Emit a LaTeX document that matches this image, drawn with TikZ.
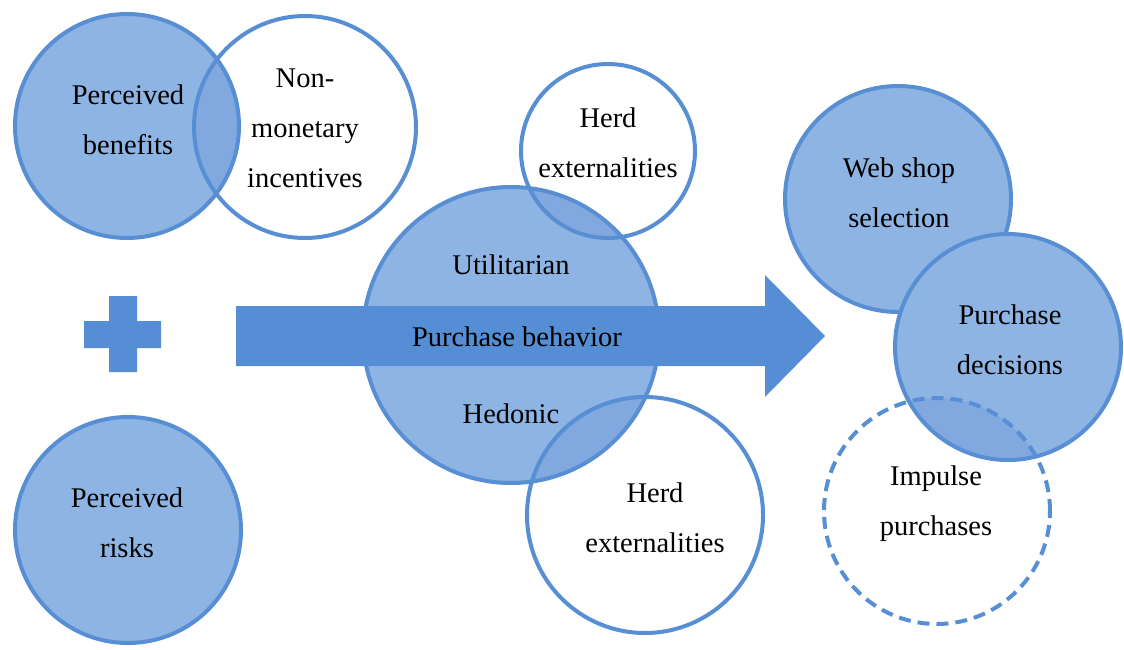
\documentclass[tikz,border=0pt]{standalone}
\usepackage{fontspec}
\setmainfont{Liberation Serif}
\definecolor{fillblue}{RGB}{142,180,227}
\definecolor{lensblue}{RGB}{129,169,223}
\definecolor{lineblue}{RGB}{88,143,212}
\definecolor{arrowblue}{RGB}{85,142,213}
\begin{document}
\begin{tikzpicture}[x=1pt,y=-1pt,
  circ/.style={circle,inner sep=0pt,outer sep=0pt,line width=4pt},
  bluefill/.style={circ,fill=fillblue},
  whitefill/.style={circ,fill=white},
  outline/.style={line width=4pt,draw=lineblue},
  dashline/.style={line width=4pt,draw=lineblue,dash pattern=on 12pt off 7pt},
  lbl/.style={align=center,inner sep=0pt,font=\fontsize{28.5}{50}\selectfont}]
\useasboundingbox (0,0) rectangle (1124,650);
% circles (fills)
\node[whitefill,minimum size=222pt] (nm) at (305,127) {};
\node[whitefill,minimum size=174pt] (ht) at (608,151) {};
\node[whitefill,minimum size=236pt] (hb) at (645,515) {};
\node[whitefill,minimum size=226pt] (ip) at (937,511) {};
\node[bluefill,minimum size=224pt] (pb) at (127,126) {};
\node[bluefill,minimum size=226pt] (pr) at (128,530) {};
\node[bluefill,minimum size=296pt] (bh) at (511,335) {};
\node[bluefill,draw=lineblue,minimum size=226pt] (ws) at (898,199) {};
\node[bluefill,minimum size=226pt] (pd) at (1008,347) {};
% lenses
\begin{scope}\clip (pb.center) circle[radius=112pt];
  \fill[lensblue] (nm.center) circle[radius=111pt];\end{scope}
\begin{scope}\clip (bh.center) circle[radius=148pt];
  \fill[lensblue] (ht.center) circle[radius=87pt];\end{scope}
\begin{scope}\clip (bh.center) circle[radius=148pt];
  \fill[lensblue] (hb.center) circle[radius=118pt];\end{scope}
\begin{scope}\clip (pd.center) circle[radius=113pt];
  \fill[lensblue] (ip.center) circle[radius=113pt];\end{scope}
% outlines
\draw[outline] (pb.center) circle[radius=112pt];
\draw[outline] (nm.center) circle[radius=111pt];
\draw[outline] (pr.center) circle[radius=113pt];
\draw[outline] (bh.center) circle[radius=148pt];
\draw[outline] (ht.center) circle[radius=87pt];
\draw[outline] (hb.center) circle[radius=118pt];
\draw[outline] (pd.center) circle[radius=113pt];
\draw[dashline] (ip.center) circle[radius=113pt];
% block arrow
\fill[arrowblue] (236,306) -- (765,306) -- (765,275) -- (825,336) -- (765,397) -- (765,366) -- (236,366) -- cycle;
% plus sign
\fill[arrowblue] (109,296) -- (137,296) -- (137,321) -- (161,321) -- (161,348) -- (137,348) -- (137,372) -- (109,372) -- (109,348) -- (84,348) -- (84,321) -- (109,321) -- cycle;
% labels
\node[lbl] (tpb) at (128,120) {Perceived\\benefits};
\node[lbl] (tnm) at (305,128) {Non-\\monetary\\incentives};
\node[lbl] (tht) at (608,143) {Herd\\externalities};
\node[lbl] (tut) at (511,265) {Utilitarian};
\node[lbl] (tbh) at (517,337) {Purchase behavior};
\node[lbl] (the) at (511,414) {Hedonic};
\node[lbl] (thb) at (655,518) {Herd\\externalities};
\node[lbl] (tws) at (899,193) {Web shop\\selection};
\node[lbl] (tpd) at (1010,340) {Purchase\\decisions};
\node[lbl] (tip) at (936,504) {Impulse\\purchases};
\node[lbl] (tpr) at (127,523) {Perceived\\risks};
\end{tikzpicture}
\end{document}
